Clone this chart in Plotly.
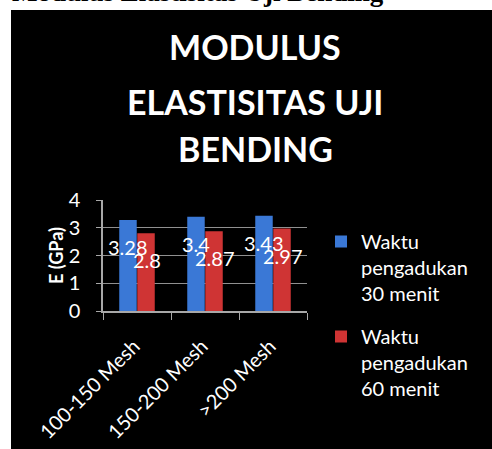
import plotly.graph_objects as go

categories = ["100-150 Mesh", "150-200 Mesh", ">200 Mesh"]
series_names = ["Waktu<br>pengadukan<br>30 menit", "Waktu<br>pengadukan<br>60 menit"]
values_30 = [3.28, 3.4, 3.43]
values_60 = [2.8, 2.87, 2.97]
y_ticks = [0, 1, 2, 3, 4]
title_lines = ["MODULUS", "ELASTISITAS UJI", "BENDING"]
doc_caption = "Modulus Elastisitas Uji Bending"

W, H = 492, 449
L, R, T, B = 103, 185, 200, 138
PW, PH = W - L - R, H - T - B


def px2x(px):
    return (px - L) / PW


def py2y(py):
    return (H - B - py) / PH


FONT = "Lato"
fig = go.Figure()
fig.add_trace(go.Bar(x=categories, y=values_30, name=series_names[0], legendgroup="a",
                     marker=dict(color="#3a78d6", line=dict(width=0))))
fig.add_trace(go.Bar(x=categories, y=values_60, name=series_names[1], legendgroup="b",
                     marker=dict(color="#cf3434", line=dict(width=0))))

annotations = []
for vals, shift in ((values_30, -9.5), (values_60, 9.5)):
    for c, v in zip(categories, vals):
        annotations.append(dict(x=c, y=v, xref="x", yref="y", text=str(v), showarrow=False,
                                xshift=shift, yshift=-27, yanchor="middle", xanchor="center",
                                font=dict(family=FONT, size=20, color="white")))

for line, cy in zip(title_lines, (47, 101, 148)):
    annotations.append(dict(x=px2x(255), y=py2y(cy), xref="paper", yref="paper", text=line,
                            showarrow=False, xanchor="center", yanchor="middle",
                            font=dict(family=FONT, size=34, color="white", weight="bold")))

annotations.append(dict(x=px2x(10), y=py2y(9), xref="paper", yref="paper", text=doc_caption,
                        showarrow=False, xanchor="left", yanchor="bottom",
                        font=dict(family="Liberation Serif", size=27, color="black", weight="bold")))

fig.update_layout(
    width=W, height=H,
    margin=dict(l=L, r=R, t=T, b=B, pad=0, autoexpand=False),
    paper_bgcolor="white",
    plot_bgcolor="#686868",
    barmode="group", bargap=0.47, bargroupgap=0.03,
    showlegend=True,
    legend=dict(x=px2x(321), y=py2y(222), xanchor="left", yanchor="top",
                font=dict(family=FONT, size=20, color="white"),
                bgcolor="rgba(0,0,0,0)", tracegroupgap=14, traceorder="grouped",
                itemwidth=30, valign="top", maxheight=400),
    annotations=annotations,
    shapes=[dict(type="rect", xref="paper", yref="paper", layer="below",
                 x0=px2x(11), x1=px2x(W + 10), y0=py2y(H + 10), y1=py2y(10),
                 fillcolor="black", line=dict(width=0))],
    xaxis=dict(tickangle=-45, tickson="boundaries", ticks="outside", ticklen=7,
               tickcolor="#a8a8a8", showline=True, linecolor="#a8a8a8", linewidth=1.5,
               ticklabelstandoff=14, ticklabelshift=-3, automargin=False,
               tickfont=dict(family=FONT, size=20, color="white"), showgrid=False),
    yaxis=dict(range=[0, 4], tickvals=y_ticks, ticks="outside", ticklen=5,
               tickcolor="#a8a8a8", showline=True, linecolor="#a8a8a8", linewidth=1.5,
               gridcolor="#909090", gridwidth=1.2, zeroline=False,
               ticklabelstandoff=12, automargin=False,
               tickfont=dict(family=FONT, size=20, color="white"),
               title=dict(text="E (GPa)", standoff=0,
                          font=dict(family=FONT, size=18, color="white", weight="bold"))),
)

fig.write_html("out.html", config={"displayModeBar": False},
               post_script="document.body.style.margin='0px';")
